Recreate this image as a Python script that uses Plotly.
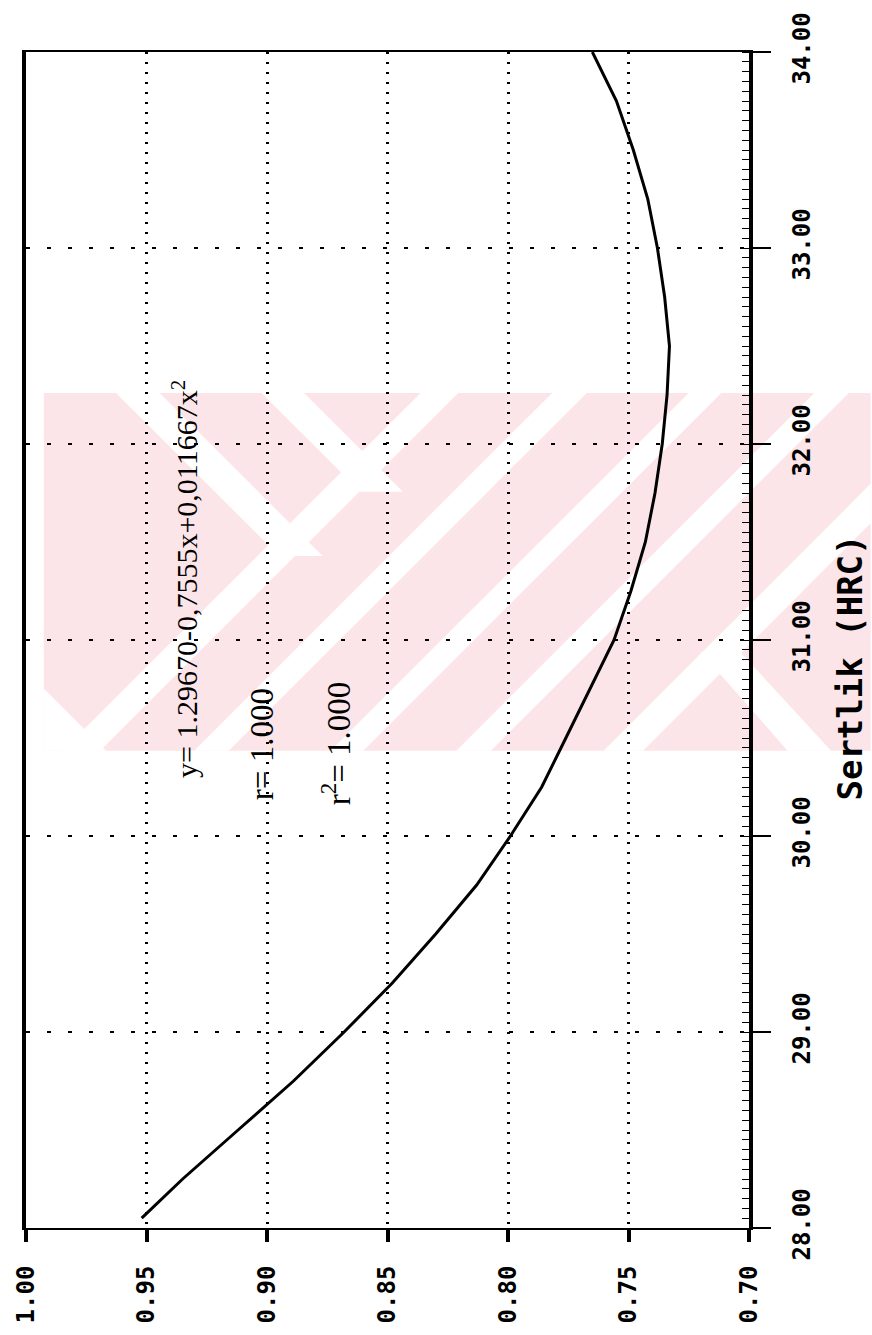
import plotly.graph_objects as go

# ---- data (rotated plot: HRC runs bottom->top, ratio runs right->left) ----
hrc = [28.05, 28.25, 28.50, 28.75, 29.00, 29.25, 29.50, 29.75, 30.00, 30.25,
       30.50, 30.75, 31.00, 31.25, 31.50, 31.75, 32.00, 32.25, 32.50, 32.75,
       33.00, 33.25, 33.50, 33.75, 34.00]
ratio = [0.952, 0.935, 0.912, 0.889, 0.868, 0.848, 0.830, 0.813, 0.799, 0.786,
         0.776, 0.766, 0.756, 0.749, 0.743, 0.739, 0.736, 0.734, 0.733, 0.735,
         0.738, 0.742, 0.748, 0.755, 0.765]

ratio_ticks = [1.00, 0.95, 0.90, 0.85, 0.80, 0.75, 0.70]
ratio_labels = ["1.00", "0.95", "0.90", "0.85", "0.80", "0.75", "0.70"]
hrc_ticks = [28, 29, 30, 31, 32, 33, 34]
hrc_labels = ["28.00", "29.00", "30.00", "31.00", "32.00", "33.00", "34.00"]

equation = "y= 1.29670-0,7555x+0,011667x<sup>2</sup>"
r_text = "r= 1.000"
r2_text = "r<sup>2</sup>= 1.000"
axis_title = "Sertlik (HRC)"

W, H = 872, 1335
L, R, T, B = 18, 749, 45, 1235

def px(x):
    return (x - L) / (R - L)

def py(y):
    return (B - y) / (B - T)

def path(points):
    return "M " + " L ".join(f"{px(x):.4f},{py(y):.4f}" for x, y in points) + " Z"

fig = go.Figure()
fig.add_trace(go.Scatter(x=ratio, y=hrc, mode="lines",
                         line=dict(color="black", width=3),
                         showlegend=False, hoverinfo="skip"))

# ---- faint pink watermark (decoration only) ----
pink = "rgb(252,229,233)"
shapes = [dict(type="path", path=path([(36, 390), (872, 390), (872, 752), (36, 752)]),
               xref="paper", yref="paper", fillcolor=pink, line=dict(width=0), layer="below")]
white_stripes = [
    [(417, 390), (455, 390), (93, 752), (55, 752)],
    [(256, 390), (299, 390), (399, 490), (356, 490)],
    [(109, 390), (153, 390), (318, 555), (274, 555)],
    [(550, 390), (585, 390), (223, 752), (188, 752)],
    [(688, 390), (721, 390), (359, 752), (326, 752)],
    [(815, 390), (850, 390), (488, 752), (453, 752)],
    [(872, 482), (872, 522), (642, 752), (602, 752)],
    [(700, 652), (740, 652), (832, 752), (788, 752)],
    [(36, 752), (99, 752), (36, 689)],
]
for poly in white_stripes:
    shapes.append(dict(type="path", path=path(poly), xref="paper", yref="paper",
                       fillcolor="white", line=dict(width=0), layer="below"))

tickfont = dict(family="DejaVu Sans Mono", size=24, color="black", weight="bold")

fig.update_layout(
    width=W, height=H, autosize=False,
    margin=dict(l=L, r=W - R, t=T, b=H - B, pad=0),
    paper_bgcolor="white", plot_bgcolor="rgba(0,0,0,0)",
    shapes=shapes,
    xaxis=dict(range=[1.00, 0.70], tickvals=ratio_ticks, ticktext=ratio_labels,
               tickangle=-90, tickfont=tickfont, ticks="outside", ticklen=12,
               tickwidth=3.5, tickcolor="black", ticklabelstandoff=14,
               showline=True, linecolor="black", linewidth=2, mirror=True,
               showgrid=True, gridcolor="black", gridwidth=2.5, griddash="2px,8px",
               zeroline=False),
    yaxis=dict(range=[28, 34], side="right", tickvals=hrc_ticks, ticktext=hrc_labels,
               tickangle=-90, tickfont=tickfont, ticks="outside", ticklen=18,
               tickwidth=2, tickcolor="black", ticklabelstandoff=10,
               minor=dict(ticks="inside", ticklen=7, tickwidth=1.2, dtick=0.05,
                          tickcolor="black", showgrid=False),
               showline=True, linecolor="black", linewidth=4, mirror=True,
               showgrid=True, gridcolor="black", gridwidth=2, griddash="4px,17px",
               zeroline=False),
    annotations=[
        dict(text=equation, xref="paper", yref="paper", x=px(178), y=py(578),
             textangle=-90, showarrow=False, xanchor="center", yanchor="middle",
             font=dict(family="Liberation Serif", size=30, color="black")),
        dict(text=r_text, xref="paper", yref="paper", x=px(256), y=py(745),
             textangle=-90, showarrow=False, xanchor="center", yanchor="middle",
             font=dict(family="Liberation Serif", size=33, color="black")),
        dict(text=r2_text, xref="paper", yref="paper", x=px(331), y=py(745),
             textangle=-90, showarrow=False, xanchor="center", yanchor="middle",
             font=dict(family="Liberation Serif", size=33, color="black")),
        dict(text=axis_title, xref="paper", yref="paper", x=px(851), y=py(668),
             textangle=-90, showarrow=False, xanchor="center", yanchor="middle",
             font=dict(family="DejaVu Sans Mono", size=34, color="black", weight="bold")),
    ],
)

fig.write_html("out.html")
